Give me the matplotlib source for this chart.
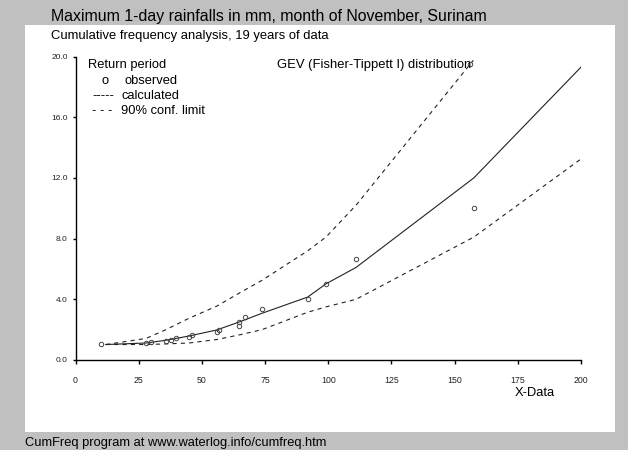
'''
    frecuencia acumulada de lluvias maximas de 1 dia, noviembre, Surinam
'''

import matplotlib
matplotlib.use('Agg')
import matplotlib.pyplot as plt
from matplotlib.patches import Rectangle

# datos observados (lluvia en mm, periodo de retorno)
obs_x = [10.0, 27.9, 29.7, 35.8, 37.8, 39.8, 44.9, 46.2, 55.9, 56.6,
         64.7, 64.7, 67.2, 73.8, 91.9, 99.1, 111.0, 157.6, 156.0]
obs_t = [1.05, 1.11, 1.18, 1.25, 1.33, 1.43, 1.54, 1.67, 1.82, 2.00,
         2.22, 2.50, 2.86, 3.33, 4.00, 5.00, 6.67, 10.0, 19.5]

# curva calculada y limites de confianza
calc_x = [12.0, 27.9, 35.8, 44.9, 55.9, 64.7, 73.8, 91.9, 99.1, 111.0, 157.6, 200.0]
calc_t = [1.02, 1.12, 1.30, 1.58, 1.98, 2.50, 3.08, 4.15, 5.02, 6.10, 12.0, 19.3]
upper_x = [12.0, 27.9, 35.8, 44.9, 55.9, 64.7, 73.8, 91.9, 99.1, 111.0, 157.4]
upper_t = [1.02, 1.42, 2.00, 2.75, 3.55, 4.40, 5.25, 7.20, 8.10, 10.2, 19.75]
lower_x = [12.0, 27.9, 35.8, 44.9, 55.9, 64.7, 73.8, 91.9, 99.1, 111.0, 157.6, 200.0]
lower_t = [1.02, 1.02, 1.06, 1.12, 1.35, 1.65, 2.00, 3.15, 3.50, 4.00, 8.10, 13.25]

x_ticks = [0, 25, 50, 75, 100, 125, 150, 175, 200]
y_ticks = [0.0, 4.0, 8.0, 12.0, 16.0, 20.0]

plt.rcParams['font.family'] = ['Liberation Sans', 'DejaVu Sans']
plt.rcParams['lines.scale_dashes'] = False

W, H = 628, 450
fig = plt.figure(figsize=(W / 100, H / 100), dpi=100, facecolor='#c0c0c0')


def px(x, y):
    # pasar de pixeles a coordenadas de figura
    return x / W, 1 - y / H


# panel blanco
x0, y0 = px(25, 432)
fig.add_artist(Rectangle((x0, y0), (615 - 25) / W, (432 - 25) / H,
                         transform=fig.transFigure, facecolor='white',
                         edgecolor='none', zorder=0))

l, b = px(75.5, 360)
r, t = px(581, 56.5)
ax = fig.add_axes([l, b, r - l, t - b])
ax.set_facecolor('none')

ax.plot(calc_x, calc_t, color='#222222', lw=0.8)
ax.plot(upper_x, upper_t, color='#222222', lw=0.8, dashes=(3, 3))
ax.plot(lower_x, lower_t, color='#222222', lw=0.8, dashes=(3, 3))
ax.plot(obs_x, obs_t, 'o', ms=3.2, mfc='none', mec='#444444', mew=0.7, clip_on=False)

ax.set_xlim(0, 200)
ax.set_ylim(0, 20)
ax.set_xticks(x_ticks)
ax.set_xticklabels([str(v) for v in x_ticks])
ax.set_yticks(y_ticks)
ax.set_yticklabels([f'{v:.1f}' for v in y_ticks])
for s in ['top', 'right']:
    ax.spines[s].set_visible(False)
for s in ['left', 'bottom']:
    ax.spines[s].set_linewidth(1.0)
ax.tick_params(axis='x', length=3, width=1, pad=8.5, labelsize=6.3, labelcolor='#222222')
ax.tick_params(axis='y', length=2.5, width=1, pad=3, labelsize=6.0, labelcolor='#222222')

# textos
fig.text(*px(51, 17), 'Maximum 1-day rainfalls in mm, month of November, Surinam',
         fontsize=11.4, va='center', ha='left')
fig.text(*px(51, 36), 'Cumulative frequency analysis, 19 years of data',
         fontsize=9.4, va='center', ha='left')
fig.text(*px(88, 65), 'Return period', fontsize=9.3, va='center')
fig.text(*px(101, 81), 'o', fontsize=9.3, va='center')
fig.text(*px(124, 81), 'observed', fontsize=9.3, va='center')
fig.text(*px(92, 96), '-----', fontsize=9.3, va='center')
fig.text(*px(121, 96), 'calculated', fontsize=9.3, va='center')
fig.text(*px(92, 111), '- - -', fontsize=9.3, va='center')
fig.text(*px(121, 111), '90% conf. limit', fontsize=9.3, va='center')
fig.text(*px(277, 65), 'GEV (Fisher-Tippett I) distribution', fontsize=9.4, va='center')
fig.text(*px(535, 393), 'X-Data', fontsize=9.3, va='center', ha='center')
fig.text(*px(25, 443), 'CumFreq program at www.waterlog.info/cumfreq.htm',
         fontsize=9.25, va='center', ha='left')

fig.savefig('out.png', dpi=100, facecolor=fig.get_facecolor())
